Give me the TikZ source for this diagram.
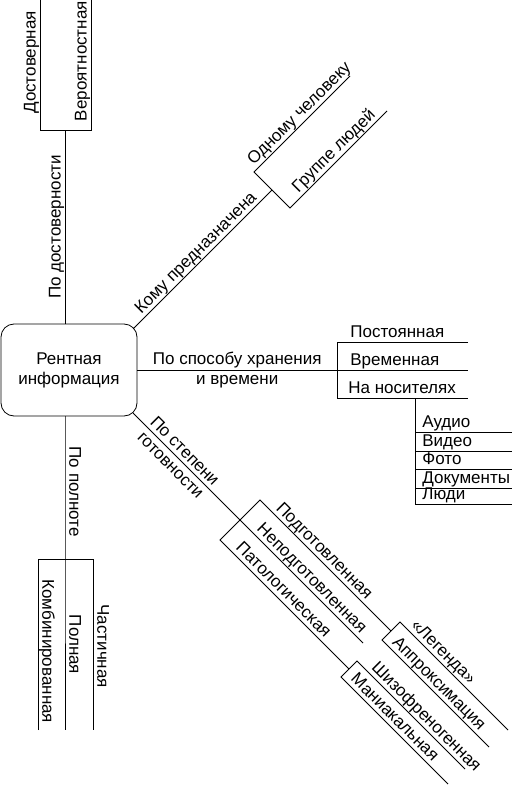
\documentclass[tikz,border=0pt]{standalone}
\usepackage{fontspec}
\setmainfont{Liberation Sans}
\usetikzlibrary{positioning}

\begin{document}
\begin{tikzpicture}[x=1pt, y=-1pt, line width=0.8pt,
    every node/.style={font=\fontsize{17}{20}\selectfont},
    lbl/.style={inner sep=4pt, text depth=0pt},
    twolbl/.style={inner sep=2pt, align=center}]
    \useasboundingbox (0,0) rectangle (515,786);

    % the central box
    \node[draw, rounded corners=13pt, minimum width=136pt, minimum height=92pt, align=center] (rent) at (69,370) {Рентная\\информация};

    % points of the tree
    \coordinate (rtop) at (65,324);
    \coordinate (dost) at (65,130);
    \coordinate (d1) at (40,130);
    \coordinate (d1e) at (40,0);
    \coordinate (d2) at (91,130);
    \coordinate (d2e) at (91,0);

    \coordinate (rbot) at (65,416);
    \coordinate (poln) at (65,559);
    \coordinate (pe) at (65,730);
    \coordinate (c1) at (38,559);
    \coordinate (c1e) at (38,730);
    \coordinate (c2) at (93,559);
    \coordinate (c2e) at (93,730);

    \coordinate (ne) at (133,329);
    \coordinate (kom) at (272,190);
    \coordinate (k1) at (254,172);
    \coordinate (k1e) at (350,76);
    \coordinate (k2) at (290,208);
    \coordinate (k2e) at (387,111);

    \coordinate (hr) at (337,370);
    \coordinate (h1) at (337,342);
    \coordinate (h1e) at (468,342);
    \coordinate (h2e) at (468,370);
    \coordinate (h3) at (337,398);
    \coordinate (h3e) at (468,398);
    \coordinate (n0) at (415,398);
    \coordinate (a1) at (415,432);
    \coordinate (a1e) at (512,432);
    \coordinate (a2) at (415,451);
    \coordinate (a2e) at (512,451);
    \coordinate (a3) at (415,469);
    \coordinate (a3e) at (512,469);
    \coordinate (a4) at (415,488);
    \coordinate (a4e) at (512,488);
    \coordinate (a5) at (415,504);
    \coordinate (a5e) at (512,504);

    \coordinate (se) at (133,413);
    \coordinate (st) at (240,520);
    \coordinate (s0e) at (363,643);
    \coordinate (s1) at (260,500);
    \coordinate (s2) at (220,540);
    \coordinate (leg) at (391,631);
    \coordinate (l1) at (400,622);
    \coordinate (l1e) at (508,730);
    \coordinate (l2) at (382,640);
    \coordinate (l2e) at (489,747);
    \coordinate (pat) at (349,669);
    \coordinate (p1) at (357,661);
    \coordinate (p1e) at (465,769);
    \coordinate (p2) at (341,677);
    \coordinate (p2e) at (448,784);

    % po dostovernosti
    \draw (rtop) -- (dost) node[lbl, midway, rotate=90, anchor=south] (ldost) {По достоверности};
    \draw (d1e) -- (d1) node[lbl, pos=0.48, rotate=90, anchor=south] (ldost1) {Достоверная}
        -- (d2) -- (d2e) node[lbl, pos=0.53, rotate=90, anchor=south] (ldost2) {Вероятностная};

    % po polnote
    \draw (rbot) -- (poln) node[lbl, pos=0.53, rotate=-90, anchor=south] (lpoln) {По полноте}
        -- (pe) node[lbl, pos=0.5, rotate=-90, anchor=south] (lpoln2) {Полная};
    \draw (c1e) -- (c1) node[lbl, pos=0.46, rotate=-90, anchor=south] (lpoln1) {Комбинированная}
        -- (c2) -- (c2e) node[lbl, pos=0.51, rotate=-90, anchor=south] (lpoln3) {Частичная};

    % komu prednaznachena
    \draw (ne) -- (kom) node[lbl, midway, rotate=45, anchor=south] (lkom) {Кому предназначена};
    \draw (k1e) -- (k1) node[lbl, pos=0.46, rotate=45, anchor=south] (lkom1) {Одному человеку}
        -- (k2) -- (k2e) node[lbl, pos=0.52, rotate=45, anchor=south] (lkom2) {Группе людей};

    % po sposobu hranenija
    \draw (rent.east) -- (hr) node[twolbl, midway] (lhr) {По способу хранения\\и времени};
    \draw (h1e) -- (h1) -- (h3) -- (h3e);
    \draw (hr) -- (h2e);
    \node[lbl, above right=0pt and 9pt of h1] (lhr1) {Постоянная};
    \node[lbl, above right=0pt and 9pt of hr] (lhr2) {Временная};
    \node[lbl, above right=0pt and 7pt of h3] (lhr3) {На носителях};

    % na nositeljah
    \draw (n0) -- (a5);
    \draw (a1) -- (a1e);
    \draw (a2) -- (a2e);
    \draw (a3) -- (a3e);
    \draw (a4) -- (a4e);
    \draw (a5) -- (a5e);
    \node[lbl, above right=0pt and 3pt of a1] (la1) {Аудио};
    \node[lbl, above right=0pt and 3pt of a2] (la2) {Видео};
    \node[lbl, above right=0pt and 3pt of a3] (la3) {Фото};
    \node[lbl, above right=0pt and 3pt of a4] (la4) {Документы};
    \node[lbl, above right=0pt and 3pt of a5] (la5) {Люди};

    % po stepeni gotovnosti
    \draw (se) -- (st) node[twolbl, pos=0.42, rotate=-45] (lst) {По степени\\готовности}
        -- (s0e) node[lbl, pos=0.53, rotate=-45, anchor=south] (lst2) {Неподготовленная};
    \draw (leg) -- (s1) node[lbl, pos=0.56, rotate=-45, anchor=south] (lst1) {Подготовленная}
        -- (s2) -- (pat) node[lbl, pos=0.44, rotate=-45, anchor=south] (lst3) {Патологическая};
    \draw (l1e) -- (l1) node[lbl, pos=0.66, rotate=-45, anchor=south] (lleg1) {«Легенда»}
        -- (l2) -- (l2e) node[lbl, pos=0.47, rotate=-45, anchor=south] (lleg2) {Аппроксимация};
    \draw (p1e) -- (p1) node[lbl, pos=0.42, rotate=-45, anchor=south] (lpat1) {Шизофреногенная}
        -- (p2) -- (p2e) node[lbl, pos=0.44, rotate=-45, anchor=south] (lpat2) {Маниакальная};
\end{tikzpicture}
\end{document}
